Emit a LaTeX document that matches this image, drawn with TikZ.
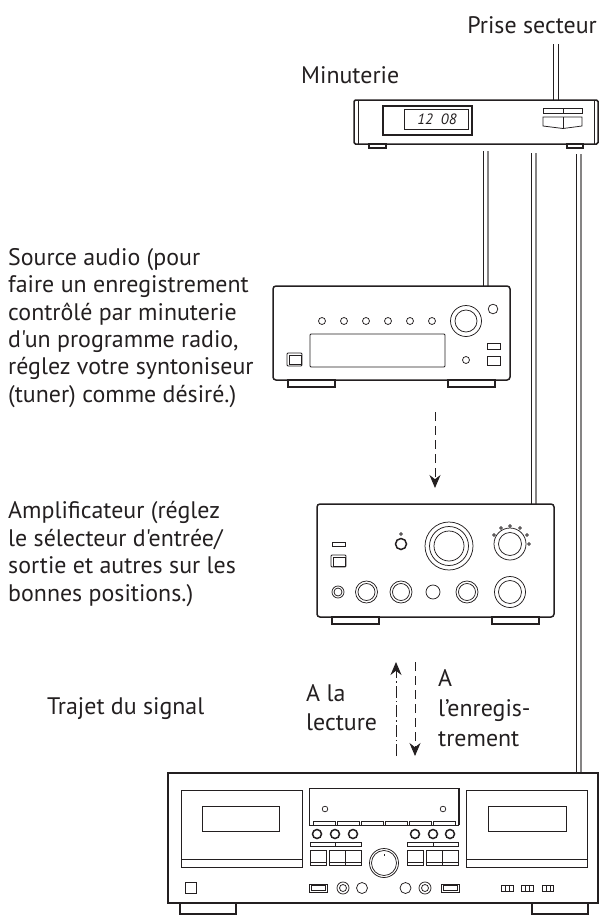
\documentclass[tikz,border=0pt]{standalone}
\usepackage{fontspec}
\setmainfont{PT Sans}[Ligatures=TeXOff]
\usetikzlibrary{arrows.meta}
\definecolor{ink}{HTML}{231F20}
\tikzset{
	label/.style={text=ink, inner sep=0pt, align=left, font=\fontsize{24}{27.5}\selectfont},
	thickline/.style={draw=ink, line width=1.5bp},
	thinline/.style={draw=ink, line width=0.75bp},
	cablegray/.style={draw=ink!55, line width=1.2bp},
	flow/.style={draw=ink, line width=0.9bp, -{Stealth[length=13bp,width=11bp]}},
}
\begin{document}
\begin{tikzpicture}[x=1bp, y=-1bp]
\useasboundingbox (0,0) rectangle (603,918);
% labels
\node[label, anchor=base east] (mains) at (597,33) {Prise secteur};
\node[label, anchor=base west] (timerlabel) at (301,83) {Minuterie};
\node[label, anchor=west] (sourcelabel) at (8,328) {Source audio (pour\\faire un enregistrement\\contrôlé par minuterie\\d'un programme radio,\\réglez votre syntoniseur\\(tuner) comme désiré.)};
\node[label, anchor=west] (amplabel) at (8,554) {Amplificateur (réglez\\le sélecteur d'entrée/\\sortie et autres sur les\\bonnes positions.)};
\node[label, anchor=west] (pathlabel) at (47,709) {Trajet du signal};
\node[label, anchor=west] (playlabel) at (306,708) {A la\\[1.5bp]lecture};
\node[label, anchor=west] (reclabel) at (438,708) {A\\[2.5bp]l’enregis-\\[2.5bp]trement};

% cables
\draw[thinline] (553,44) -- (553,100);
\draw[thinline] (558,44) -- (558,100);
\draw[thinline] (483,151) -- (483,286);
\draw[cablegray] (488,151) -- (488,286);
\draw[thinline] (531,153) -- (531,504);
\draw[cablegray] (536,153) -- (536,504);
\draw[thinline] (576,154) -- (576,773);
\draw[cablegray] (581,154) -- (581,773);

% timer
\begin{scope}
	\draw[thickline, rounded corners=1.5bp] (354,100) rectangle (598,144);
	\draw[thinline] (358,100) -- (358,144);
	\draw[thinline] (594,100) -- (594,144);
	\draw[thickline] (369,144) rectangle (386,148);
	\draw[thickline] (567,144) rectangle (583,148);
	\draw[thickline] (383,106) rectangle (472,135);
	\draw[thinline] (404,109) rectangle (468,129);
	\node[text=ink, inner sep=0pt, font=\itshape\fontsize{15}{15}\selectfont] (clock) at (437,119.5) {12\ \ 08};
	\draw[thinline] (543,108) rectangle (582,113);
	\draw[thinline] (563,108) -- (563,113);
	\draw[thinline] (543,117) -- (582,117) -- (582,126) -- (563,128.5) -- (543,126) -- cycle;
	\draw[thinline] (563,117) -- (563,128.5);
\end{scope}

% source
\begin{scope}
	\draw[thickline, rounded corners=3bp] (273,286) rectangle (510,380);
	\draw[thickline] (288,380) rectangle (335,387);
	\draw[thickline] (448,380) rectangle (495,387);
	\draw[thinline] (322,321) circle (3.5);
	\draw[thinline] (344,321) circle (3.5);
	\draw[thinline] (366,321) circle (3.5);
	\draw[thinline] (388,321) circle (3.5);
	\draw[thinline] (410,321) circle (3.5);
	\draw[thinline] (432,321) circle (3.5);
	\draw[thinline] (466,321) circle (15.5);
	\draw[thinline] (466,321) circle (11);
	\draw[thinline] (493,309) circle (4.8);
	\draw[thinline, rounded corners=1bp] (310,334) rectangle (445,367);
	\draw[thinline, rounded corners=1bp] (287,353) rectangle (302,366);
	\draw[thinline] (289,355) rectangle (301,364.5);
	\draw[thinline] (487,343) rectangle (500,349);
	\draw[thinline] (487,356) rectangle (500,365);
	\draw[thinline] (466,360) circle (3.5);
\end{scope}

% amp
\begin{scope}
	\draw[thickline, rounded corners=3bp] (317,504) rectangle (554,617);
	\draw[thickline] (332,617) rectangle (379,624);
	\draw[thickline] (492,617) rectangle (539,624);
	\draw[thinline] (332,542) rectangle (345,546);
	\draw[thinline, rounded corners=1bp] (331,555) rectangle (346,567);
	\draw[thinline] (333,557) rectangle (345,566);
	\draw[thickline] (401,544) circle (5.5);
	\draw[thinline] (401,534) circle (1.3);
	\draw[thinline] (449,546) circle (24);
	\draw[thinline] (449,546) circle (19.5);
	\draw[thinline] (449,546) circle (15);
	\draw[thinline] (510,544) circle (16);
	\draw[thinline] (510,544) circle (11.5);
	\draw[thinline] (494,535) circle (1.3);
	\draw[thinline] (501,528) circle (1.3);
	\draw[thinline] (510,526) circle (1.3);
	\draw[thinline] (520,528) circle (1.3);
	\draw[thinline] (527,535) circle (1.3);
	\draw[thinline] (529,544) circle (1.3);
	\draw[thinline] (338,592) circle (6);
	\draw[thinline] (338,592) circle (4);
	\draw[thinline] (366.5,592) circle (11);
	\draw[thinline] (366.5,592) circle (8.5);
	\draw[thinline] (401,592) circle (11);
	\draw[thinline] (401,592) circle (8.5);
	\draw[thinline] (433,592) circle (7);
	\draw[thinline] (467,592) circle (11);
	\draw[thinline] (467,592) circle (8.5);
	\draw[thinline] (510,592) circle (15.5);
	\draw[thinline] (510,592) circle (11.5);
\end{scope}

% deck
\begin{scope}
	\draw[thickline] (168,773) rectangle (598,903);
	\draw[thickline] (180,903) rectangle (236,914);
	\draw[thickline] (532,903) rectangle (588,914);
	\draw[thinline] (181,790) rectangle (302,867);
	\draw[thinline] (181,859) -- (302,859);
	\draw[thinline] (202,806) rectangle (279,831);
	\draw[thinline] (185,882) rectangle (196,893);
	\draw[thinline] (466,790) rectangle (587,867);
	\draw[thinline] (466,859) -- (587,859);
	\draw[thinline] (488,806) rectangle (566,831);
	\draw[thinline] (309,825) -- (309,788) -- (459,788) -- (459,825);
	\draw[thickline] (459,788) -- (459,825);
	\draw[thinline] (309,825) -- (459,825);
	\draw[thinline] (325,809) circle (2.8);
	\draw[thinline] (443,809) circle (2.8);
	\draw[thinline] (313,821) rectangle (335,825);
	\draw[thinline] (337,821) rectangle (359,825);
	\draw[thinline] (361,821) rectangle (383,825);
	\draw[thinline] (385,821) rectangle (407,825);
	\draw[thinline] (409,821) rectangle (431,825);
	\draw[thinline] (433,821) rectangle (455,825);
	\draw[thickline] (317,834) circle (4.5);
	\draw[thickline] (335,834) circle (4.5);
	\draw[thickline] (353,834) circle (4.5);
	\draw[thickline] (415,834) circle (4.5);
	\draw[thickline] (433,834) circle (4.5);
	\draw[thickline] (450,834) circle (4.5);
	\draw[thinline] (310,842) rectangle (361,846);
	\draw[thinline] (335,842) -- (335,846);
	\draw[thinline] (407,842) rectangle (458,846);
	\draw[thinline] (433,842) -- (433,846);
	\draw[thinline] (310,850) rectangle (326,865);
	\draw[thinline] (329,850) rectangle (345,865);
	\draw[thinline] (345,850) rectangle (361,865);
	\draw[thinline] (407,850) rectangle (423,865);
	\draw[thinline] (426,850) rectangle (442,865);
	\draw[thinline] (442,850) rectangle (458,865);
	\draw[thinline] (310,862) -- (326,862);
	\draw[thinline] (329,862) -- (361,862);
	\draw[thinline] (407,862) -- (423,862);
	\draw[thinline] (426,862) -- (458,862);
	\draw[thinline] (384,863) circle (14.5);
	\draw[thinline] (384,863) circle (12.5);
	\draw[thinline] (384,854) -- (384,855.5);
	\draw[thinline] (309,884) rectangle (327,892);
	\draw[thinline] (311,885.5) rectangle (325,890.5);
	\draw[thinline] (343,888) circle (6);
	\draw[thinline] (343,888) circle (3.5);
	\draw[thinline] (362,888) circle (5.5);
	\draw[thinline] (405.5,888) circle (5.5);
	\draw[thinline] (425,888) circle (6);
	\draw[thinline] (425,888) circle (3.5);
	\draw[thinline] (441,884) rectangle (459,892);
	\draw[thinline] (443,885.5) rectangle (457,890.5);
	\draw[thinline] (501,885) rectangle (513,891);
	\draw[thinline] (505,885) rectangle (509,891);
	\draw[thinline] (521,885) rectangle (533,891);
	\draw[thinline] (525,885) rectangle (529,891);
	\draw[thinline] (542,885) rectangle (553,891);
	\draw[thinline] (546,885) rectangle (550,891);
\end{scope}

% signal arrows
\coordinate (srcout) at (435,412);
\coordinate (ampin) at (435,488);
\coordinate (playfoot) at (396,756);
\coordinate (playtop) at (396,662);
\coordinate (rectop) at (415,662);
\coordinate (recfoot) at (415,756);
\draw[flow, dash pattern=on 9bp off 5bp] (srcout) -- (ampin);
\draw[flow, dash pattern=on 12bp off 3bp on 1.5bp off 3bp] (playfoot) -- (playtop);
\draw[flow, dash pattern=on 9bp off 5bp] (rectop) -- (recfoot);
\end{tikzpicture}
\end{document}
